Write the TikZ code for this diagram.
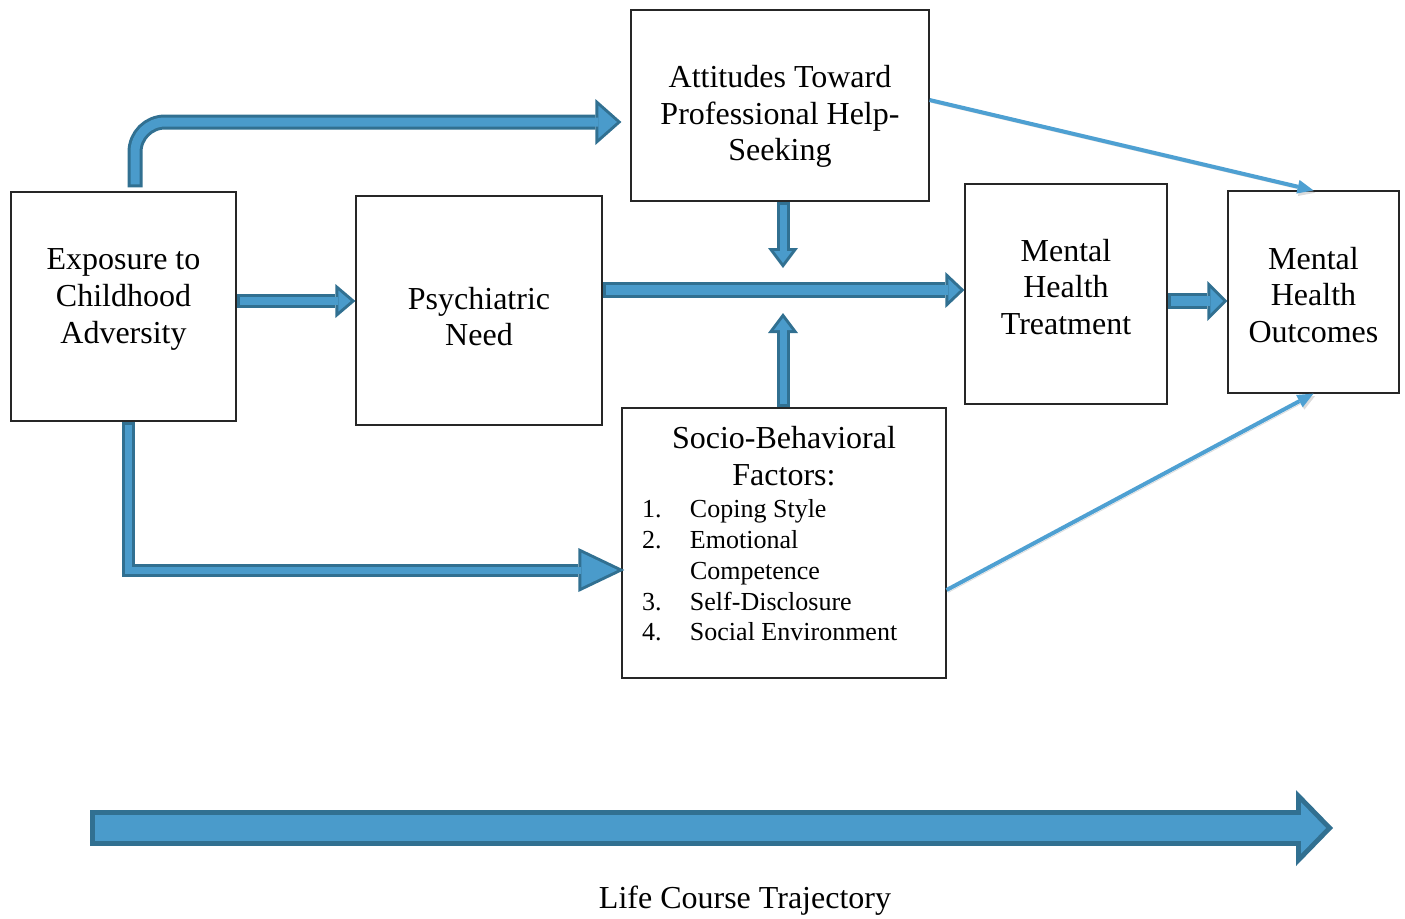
\documentclass[tikz,border=0pt]{standalone}
\usepackage{fontspec}
\setmainfont{Liberation Serif}
\usetikzlibrary{arrows.meta}

\definecolor{flowfill}{RGB}{74,155,203}
\definecolor{flowline}{RGB}{49,112,145}
\definecolor{linkline}{RGB}{78,160,210}

% outlined fat arrow: [outline]{shaft}{head length}{head width}{path}, sizes in pt
\newcommand{\blockarrow}[5][1.5]{%
  \pgfmathsetmacro{\halfw}{#4/2}%
  \pgfmathsetmacro{\slant}{sqrt(\halfw*\halfw+#3*#3)}%
  \pgfmathsetmacro{\tipback}{#1*\slant/\halfw}%
  \pgfmathsetmacro{\innerlen}{#3-#1-\tipback}%
  \pgfmathsetmacro{\innerwid}{2*((#3-#1)*\halfw/#3-#1*\slant/#3)}%
  \pgfmathsetmacro{\innershaft}{#2-2*#1}%
  \draw[draw=flowline, line width=#2pt,
    -{Triangle[length=#3pt, width=#4pt, line width=0pt]}] #5;
  \draw[draw=flowfill, line width=\innershaft pt, shorten <=#1pt, shorten >=\tipback pt,
    -{Triangle[length=\innerlen pt, width=\innerwid pt, line width=0pt]}] #5;
}

\tikzset{
  link/.style={draw=linkline, line width=2pt, -{Triangle[length=8pt,width=7pt,line width=0pt]},
    preaction={draw=black!40, opacity=0.35, transform canvas={xshift=0.8pt,yshift=-1.2pt}}}
}

\begin{document}
\begin{tikzpicture}[x=0.5pt, y=-0.5pt, font=\fontsize{16}{18.4}\selectfont]
  \useasboundingbox (0,0) rectangle (1405,918);

  % boxes
  \begin{scope}[every node/.style={draw=black!85, line width=0.6pt, inner sep=0pt}]
    \node[minimum width=112.5pt, minimum height=114.5pt] (exposure) at (123.5,306.5) {};
    \node[minimum width=123pt, minimum height=114.5pt] (need) at (479,310.5) {};
    \node[minimum width=149pt, minimum height=95.5pt] (attitude) at (780,105.5) {};
    \node[minimum width=101pt, minimum height=110pt] (treatment) at (1066,294) {};
    \node[minimum width=85.5pt, minimum height=101pt] (outcome) at (1313.5,292) {};
    \node[minimum width=162pt, minimum height=135pt] (factors) at (784,543) {};
  \end{scope}

  % box texts
  \begin{scope}[every node/.style={align=center}]
    \node (exposure-text) at ([yshift=3.5pt]exposure) {Exposure to\\Childhood\\Adversity};
    \node (need-text) at ([yshift=-3pt]need) {Psychiatric\\Need};
    \node (attitude-text) at ([yshift=-5.5pt]attitude) {Attitudes Toward\\Professional Help-\\Seeking};
    \node (treatment-text) at ([yshift=3.5pt]treatment) {Mental\\Health\\Treatment};
    \node (outcome-text) at ([yshift=-1.5pt]outcome) {Mental\\Health\\Outcomes};
    \node[text width=142pt, align=left] (factors-text) at ([yshift=4.5pt]factors) {%
      {\centering Socio-Behavioral\\Factors:\par}\vspace{0.6pt}
      {\fontsize{13}{15.4}\selectfont\spaceskip=0pt\xspaceskip=0pt
      \makebox[24pt][l]{1.}Coping Style\\
      \makebox[24pt][l]{2.}Emotional\\
      \hspace*{24pt}Competence\\
      \makebox[24pt][l]{3.}Self-Disclosure\\
      \makebox[24pt][l]{4.}Social Environment\par}};
    \node (trajectory) at (745,901) {Life Course Trajectory};
  \end{scope}

  \coordinate (junction) at (783,290);
  \coordinate (lifestart) at (90,828);
  \coordinate (lifeend) at (1333,828);

  % fat arrows
  \blockarrow{7.5}{13}{23}{[rounded corners=15pt] ([xshift=5.75pt,yshift=2pt]exposure.north) |- ([xshift=-4.5pt,yshift=-8.25pt]attitude.west)}
  \blockarrow{6.5}{23}{22}{([xshift=2.25pt]exposure.south) |- ([xshift=1.5pt,yshift=-13.5pt]factors.west)}
  \blockarrow{7}{10}{17}{([yshift=2.75pt]exposure.east) -- ([yshift=4.75pt]need.west)}
  \blockarrow{8}{9.5}{18}{(need.east |- junction) -- (treatment.west |- junction)}
  \blockarrow{6.5}{10}{15}{(attitude.south -| junction) -- ([yshift=11pt]junction)}
  \blockarrow{6.5}{10}{15}{(factors.north -| junction) -- ([yshift=-11.5pt]junction)}
  \blockarrow{8}{10}{20}{([yshift=-3.5pt]treatment.east) -- ([yshift=-4.5pt]outcome.west)}
  \blockarrow[2.5]{18}{18.5}{38}{(lifestart) -- (lifeend)}

  % thin arrows
  \draw[link] ([yshift=2.75pt]attitude.east) -- (outcome.north);
  \draw[link] ([yshift=-23.5pt]factors.east) -- (outcome.south);
\end{tikzpicture}
\end{document}
